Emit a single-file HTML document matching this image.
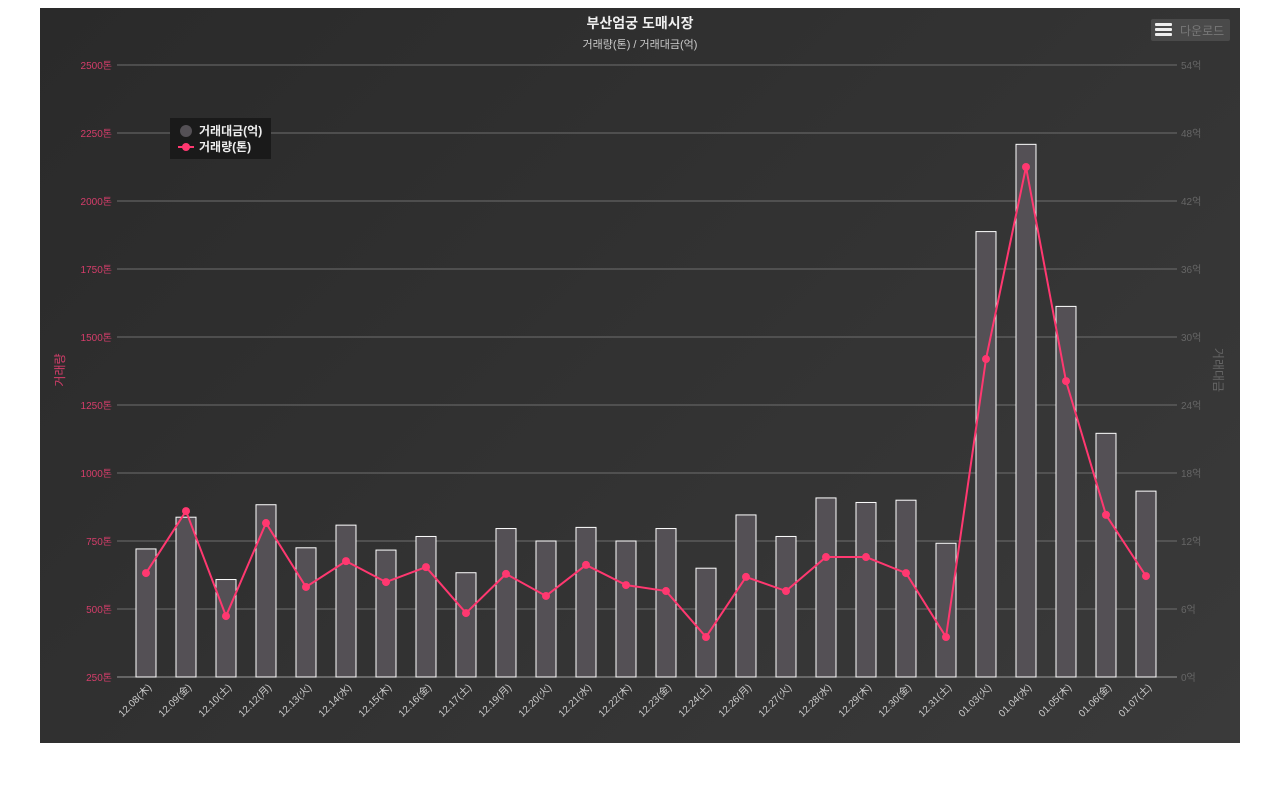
<!DOCTYPE html>
<html><head><meta charset="utf-8"><style>
body{margin:0;background:#fff;width:1280px;height:790px;overflow:hidden;font-family:"Liberation Sans","Noto Sans CJK KR",sans-serif}
#wrap{position:absolute;left:40px;top:8px;width:1200px;height:735px;background:linear-gradient(135deg,#2a2a2a,#3a3a3a)}
svg{position:absolute;left:0;top:0}
</style></head><body>
<div id="wrap"></div>
<svg id="c" width="1280" height="790" font-family="Liberation Sans, Noto Sans CJK KR, sans-serif"></svg>
<script>
const categories=["12.08(木)","12.09(金)","12.10(土)","12.12(月)","12.13(火)","12.14(水)","12.15(木)","12.16(金)","12.17(土)","12.19(月)","12.20(火)","12.21(水)","12.22(木)","12.23(金)","12.24(土)","12.26(月)","12.27(火)","12.28(水)","12.29(木)","12.30(金)","12.31(土)","01.03(火)","01.04(水)","01.05(木)","01.06(金)","01.07(土)"];
const amountValues=[11.3,14.1,8.6,15.2,11.4,13.4,11.2,12.4,9.2,13.1,12.0,13.2,12.0,13.1,9.6,14.3,12.4,15.8,15.4,15.6,11.8,39.3,47.0,32.7,21.5,16.4];
const volumeValues=[632,860,474,816,581,676,599,654,485,629,548,662,588,566,397,618,566,691,691,632,397,1419,2125,1338,846,621];
const leftTicks=[250,500,750,1000,1250,1500,1750,2000,2250,2500];
const rightTicks=[0,6,12,18,24,30,36,42,48,54];
const svg=document.getElementById('c');const NS='http://www.w3.org/2000/svg';
function mk(t,a,txt){const e=document.createElementNS(NS,t);for(const k in a)e.setAttribute(k,a[k]);if(txt!=null)e.textContent=txt;svg.appendChild(e);return e;}
const plotTop=65,plotBot=677;
const yL=v=>plotBot-(v-250)/2250*(plotBot-plotTop);
const yR=v=>plotBot-v/54*(plotBot-plotTop);
const xC=i=>146+i*40;
leftTicks.forEach(v=>{const y=yL(v);
let g=mk('line',{x1:117,x2:1177,y1:y,y2:y,stroke:v==250?'#999':'#6e6e6e','stroke-width':1});

let t=mk('text',{x:112,y:y+4,'text-anchor':'end','font-size':10,fill:'#d43d6a'},v+'톤');
});
rightTicks.forEach(v=>{const y=yR(v);
let t=mk('text',{x:1181,y:y+4,'font-size':10,fill:'#666'},v+'억');
});
amountValues.forEach((v,i)=>{const y=yR(v);
let r=mk('rect',{x:xC(i)-10,y:y,width:20,height:plotBot-y,fill:'#545055',stroke:'#fff','stroke-width':1});
});
categories.forEach((c,i)=>{const x=xC(i)+6,y=688;
let t=mk('text',{x:x,y:y,'text-anchor':'end','font-size':10,fill:'#ccc',transform:`rotate(-45 ${x} ${y})`},c);
});
let pl=mk('polyline',{points:volumeValues.map((v,i)=>xC(i)+','+yL(v)).join(' '),fill:'none',stroke:'#ff3870','stroke-width':2});

volumeValues.forEach((v,i)=>{let p=mk('circle',{cx:xC(i),cy:yL(v),r:4,fill:'#ff3870'});
});
let t1=mk('text',{x:640,y:28,'text-anchor':'middle','font-size':14,'font-weight':'bold',fill:'#eee'},'부산엄궁 도매시장');

let t2=mk('text',{x:640,y:48,'text-anchor':'middle','font-size':11,fill:'#ccc'},'거래량(톤) / 거래대금(억)');

let a1=mk('text',{x:64,y:370,'text-anchor':'middle','font-size':12,fill:'#d43d6a',transform:'rotate(-90 64 370)'},'거래량');

let a2=mk('text',{x:1214,y:370,'text-anchor':'middle','font-size':12,fill:'#666',transform:'rotate(90 1214 370)'},'거래대금');

let lg=mk('rect',{x:170,y:118,width:101,height:41,fill:'#1a1a1a'});

let c1=mk('circle',{cx:186,cy:131,r:6,fill:'#545055'});
let l1=mk('text',{x:199,y:135,'font-size':12,'font-weight':'bold',fill:'#eee'},'거래대금(억)');
let ll=mk('line',{x1:178,x2:194,y1:147,y2:147,stroke:'#ff3870','stroke-width':2});
let c2=mk('circle',{cx:186,cy:147,r:4,fill:'#ff3870'});
let l2=mk('text',{x:199,y:151,'font-size':12,'font-weight':'bold',fill:'#eee'},'거래량(톤)');
let b=mk('rect',{x:1151,y:19,width:79,height:22,rx:2,fill:'#4a4a4a'});
[24,29,34].forEach(y=>{let m=mk('rect',{x:1155,y:y-1,width:17,height:3,rx:1,fill:'#eee'});});
let bt=mk('text',{x:1180,y:35,'font-size':12,fill:'#777'},'다운로드');
</script></body></html>
